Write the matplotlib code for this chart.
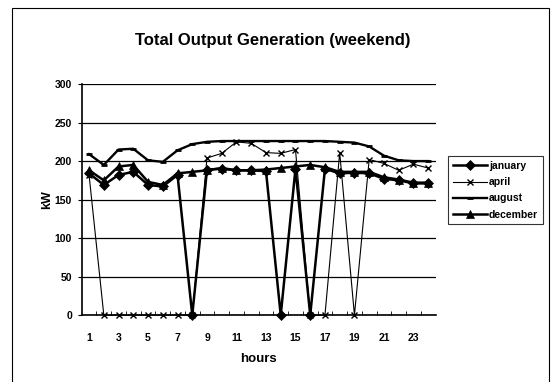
import matplotlib.pyplot as plt
from matplotlib.patches import Rectangle

hours = list(range(1, 25))

january = [184, 169, 182, 186, 169, 167, 182, 0, 189, 190, 188, 188,
           187, 0, 190, 0, 190, 184, 185, 184, 177, 175, 171, 171]
april = [182, 0, 0, 0, 0, 0, 0, 0, 204, 210, 225, 223,
         211, 210, 215, 0, 0, 211, 0, 202, 197, 188, 196, 191]
august = [209, 195, 215, 216, 201, 199, 214, 222, 225, 226, 226, 226,
          226, 226, 226, 226, 226, 225, 224, 219, 207, 201, 200, 200]
december = [188, 175, 193, 195, 173, 169, 184, 186, 188, 191, 188, 188,
            189, 191, 193, 195, 192, 186, 186, 186, 179, 176, 172, 172]

series_names = ['january', 'april', 'august', 'december']
y_ticks = [0, 50, 100, 150, 200, 250, 300]
x_labels = [str(h) for h in hours[::2]]

plt.rcParams['font.family'] = ['Liberation Sans', 'DejaVu Sans']

fig = plt.figure(figsize=(5.52, 3.82), dpi=100)
ax = fig.add_axes([0.148, 0.175, 0.641, 0.605])

# outer chart frame
fig.patches.append(Rectangle((0.021, -0.02), 0.973, 1.0,
                             transform=fig.transFigure, fill=False,
                             lw=0.8, color='black'))

styles = {
    'january': dict(marker='D', ms=5, lw=1.8, mew=0.5),
    'april': dict(marker='x', ms=5, lw=0.8, mew=1.0),
    'august': dict(marker='_', ms=5, lw=1.7, mew=2.0),
    'december': dict(marker='^', ms=6, lw=1.8, mew=0.5),
}
values = dict(january=january, april=april, august=august, december=december)

for name in series_names:
    ax.plot(hours, values[name], color='black', label=name,
            clip_on=False, zorder=3, **styles[name])

ax.set_xlim(0.5, 24.5)
ax.set_ylim(0, 300)
ax.set_yticks(y_ticks)
ax.set_yticklabels([str(v) for v in y_ticks], fontsize=7.5, fontweight='bold')
ax.set_xticks(hours[::2])
ax.set_xticklabels(x_labels, fontsize=7.5, fontweight='bold')
ax.set_xticks([h + 0.5 for h in hours[:-1]], minor=True)
ax.tick_params(axis='x', which='major', length=0, pad=13)
ax.tick_params(axis='x', which='minor', length=3, direction='in')
ax.tick_params(axis='y', length=3, direction='out', pad=4)

ax.grid(axis='y', color='black', lw=0.9)
ax.set_axisbelow(True)
for side in ('top', 'right'):
    ax.spines[side].set_visible(False)
ax.spines['left'].set_linewidth(1.2)
ax.spines['bottom'].set_linewidth(1.2)

ax.set_xlabel('hours', fontsize=9.5, fontweight='bold', labelpad=7)
ax.set_ylabel('kW', fontsize=9, fontweight='bold', labelpad=1)

fig.text(0.494, 0.895, 'Total Output Generation (weekend)', ha='center',
         va='center', fontsize=12, fontweight='bold')

leg = ax.legend(loc='center left', bbox_to_anchor=(1.035, 0.54),
                frameon=True, fancybox=False, edgecolor='black',
                prop=dict(size=7.5, weight='bold'), handlelength=3.3,
                handletextpad=0.2, borderpad=0.45, labelspacing=0.6,
                borderaxespad=0)
leg.get_frame().set_linewidth(0.8)

fig.savefig('out.png', dpi=100)
